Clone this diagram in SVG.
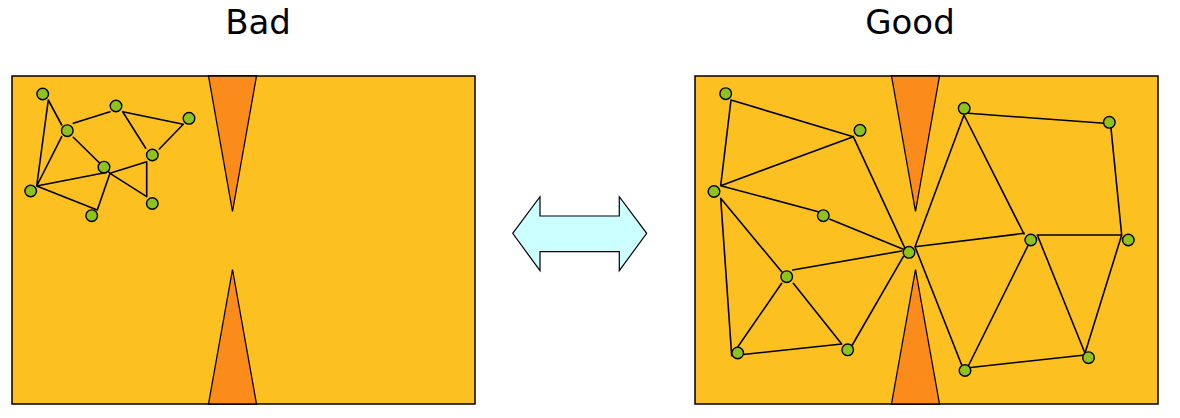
<svg xmlns="http://www.w3.org/2000/svg" width="1180" height="418" viewBox="0 0 1180 418">
<style>
.panel{fill:#FCC021;stroke:#000;stroke-width:1.5}
.wedge{fill:#FB8C1C;stroke:#000;stroke-width:1.3;stroke-linejoin:miter}
.edge{stroke:#000;stroke-width:1.6;fill:none;stroke-linecap:round}
.node{fill:#8DC21F;stroke:#000;stroke-width:1.4}
.title{font-family:"DejaVu Sans","Verdana",sans-serif;font-size:34px;fill:#000}
.arrow{fill:#CCFFFF;stroke:#000;stroke-width:1.2}
</style>
<rect width="1180" height="418" fill="#fff"/>
<text class="title" x="258" y="34" text-anchor="middle">Bad</text>
<text class="title" x="910" y="34" text-anchor="middle">Good</text>

<g id="panel-bad">
<rect class="panel" x="12" y="76" width="463" height="328"/>
<polygon class="wedge" points="208.5,76 256.5,76 232.5,211.5"/>
<polygon class="wedge" points="232.5,269.5 256.5,404 208.5,404"/>
</g>
<g id="panel-good">
<rect class="panel" x="695" y="76" width="463" height="328"/>
<polygon class="wedge" points="891.5,76 939.5,76 915.5,211.5"/>
<polygon class="wedge" points="915.5,269.5 939.5,404 891.5,404"/>
</g>

<g id="connectors">
<path class="edge" d="M48.3,100L61.7,125M48.3,100L36.7,186M61.7,136.7L36.7,186M73.3,123.3L110,111.7M122.7,111.7L183.3,124.3M122.7,111.7L145.7,148.3M183.3,124.3L159.3,149M73.3,137.3L110,173.3M36.7,186L106,172.5M36.7,186L97.3,210M110,173.3L97.3,210M110,173.3L146.7,161.7M146.7,161.7L146.7,196.7M110,173.3L146.7,196.7"/>
<path class="edge" d="M731,100L720.7,185.7M731,100L853.3,136.7M853.3,136.7L720.7,185.7M853.3,136.7L905,248.3M720.7,185.7L818.3,211.7M830,219.3L903.3,249.3M720.7,198.3L731.7,355.7M720.7,198.3L781.7,271.7M792.7,270L901.7,251M731.7,355.7L781.7,283.3M731.7,355.7L841.7,344M793.3,283.3L841.7,344M852.3,345L903.3,256.7M968.3,113.3L1104.3,123.3M915,246.7L964,115M964,115L1024,234M915,246.7L1024.3,233.3M1111,128.3L1121.7,235M1037.3,235L1121.7,235M1037.3,235L1085,353.3M1121.7,235L1085,353.3M1028.3,245L968.3,366M968.3,367.7L1085,355M915,246.7L961.7,365"/>
</g>

<g id="arrow">
<polygon class="arrow" points="512.7,233.3 540,196.7 540,216 619.3,216 619.3,196.7 646.7,233.3 619.3,270.7 619.3,251.7 540,251.7 540,270.7"/>
</g>

<g id="bad-n1"><circle class="node" cx="42.7" cy="94" r="5.8"/></g>
<g id="bad-n2"><circle class="node" cx="116" cy="106" r="5.8"/></g>
<g id="bad-n3"><circle class="node" cx="189" cy="118.3" r="5.8"/></g>
<g id="bad-n4"><circle class="node" cx="67.3" cy="130.7" r="5.8"/></g>
<g id="bad-n5"><circle class="node" cx="152.3" cy="155" r="5.8"/></g>
<g id="bad-n6"><circle class="node" cx="104" cy="167.2" r="5.8"/></g>
<g id="bad-n7"><circle class="node" cx="30.7" cy="191" r="5.8"/></g>
<g id="bad-n8"><circle class="node" cx="152.3" cy="203.5" r="5.8"/></g>
<g id="bad-n9"><circle class="node" cx="91.7" cy="215.7" r="5.8"/></g>

<g id="good-n1"><circle class="node" cx="725.7" cy="93.7" r="5.8"/></g>
<g id="good-n2"><circle class="node" cx="860" cy="130.3" r="5.8"/></g>
<g id="good-n3"><circle class="node" cx="714" cy="191.5" r="5.8"/></g>
<g id="good-n4"><circle class="node" cx="823.3" cy="215.7" r="5.8"/></g>
<g id="good-n5"><circle class="node" cx="786.7" cy="276.7" r="5.8"/></g>
<g id="good-n6"><circle class="node" cx="909" cy="252.3" r="5.8"/></g>
<g id="good-n7"><circle class="node" cx="737.7" cy="353" r="5.8"/></g>
<g id="good-n8"><circle class="node" cx="847.7" cy="349.8" r="5.8"/></g>
<g id="good-n9"><circle class="node" cx="964.2" cy="108.3" r="5.8"/></g>
<g id="good-n10"><circle class="node" cx="1109.3" cy="122.3" r="5.8"/></g>
<g id="good-n11"><circle class="node" cx="1030.8" cy="240" r="5.8"/></g>
<g id="good-n12"><circle class="node" cx="1128.3" cy="240" r="5.8"/></g>
<g id="good-n13"><circle class="node" cx="965" cy="370.5" r="5.8"/></g>
<g id="good-n14"><circle class="node" cx="1088.5" cy="357.7" r="5.8"/></g>
</svg>
